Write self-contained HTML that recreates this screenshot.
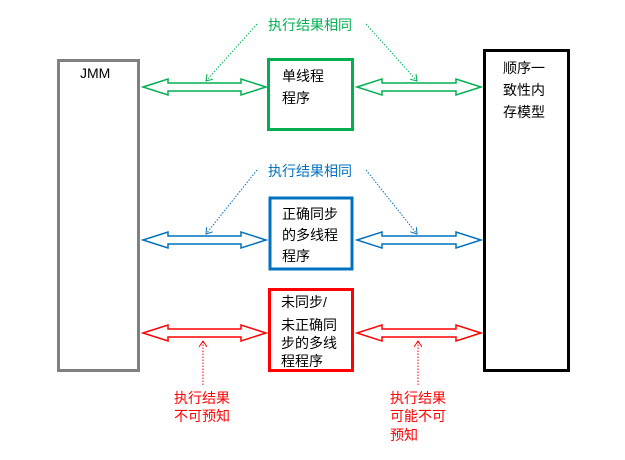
<!DOCTYPE html>
<html><head><meta charset="utf-8"><style>
body{margin:0;background:#fff;width:625px;height:460px;overflow:hidden}
svg{display:block}
text{font-family:"Liberation Sans","Noto Sans CJK SC",sans-serif;font-size:14px}
</style></head><body>
<svg width="625" height="460" viewBox="0 0 625 460">
<defs>
<marker id="ag" markerWidth="8" markerHeight="8" refX="6" refY="4" orient="auto"><path d="M0,0 L6,4 L0,8" fill="none" stroke="#00b050" stroke-width="1"/></marker>
<marker id="ab" markerWidth="8" markerHeight="8" refX="6" refY="4" orient="auto"><path d="M0,0 L6,4 L0,8" fill="none" stroke="#0070c0" stroke-width="1"/></marker>
<marker id="ar" markerWidth="8" markerHeight="8" refX="6" refY="4" orient="auto"><path d="M0,0 L6,4 L0,8" fill="none" stroke="#ff0000" stroke-width="1"/></marker>
</defs>
<rect x="58.5" y="60.5" width="80" height="310" fill="#fff" stroke="#808080" stroke-width="3"/>
<text x="80" y="78" fill="#000" font-size="13">JMM</text>
<rect x="484.5" y="50.5" width="84" height="320" fill="#fff" stroke="#000" stroke-width="3"/>
<text x="503" y="73" fill="#000">顺序一</text>
<text x="503" y="95" fill="#000">致性内</text>
<text x="503" y="117" fill="#000">存模型</text>

<rect x="268.5" y="59.5" width="84" height="70" fill="#fff" stroke="#00b050" stroke-width="3"/>
<text x="282" y="81" fill="#000">单线程</text>
<text x="282" y="103" fill="#000">程序</text>
<rect x="270" y="198" width="82" height="71" fill="#fff" stroke="#0070c0" stroke-width="3"/>
<text x="282" y="219" fill="#000">正确同步</text>
<text x="282" y="240" fill="#000">的多线程</text>
<text x="282" y="261" fill="#000">程序</text>
<rect x="269.5" y="289.5" width="83" height="81" fill="#fff" stroke="#ff0000" stroke-width="3"/>
<text x="281" y="307" fill="#000">未同步/</text>
<text x="281" y="330" fill="#000">未正确同</text>
<text x="281" y="348" fill="#000">步的多线</text>
<text x="281" y="366" fill="#000">程程序</text>

<g fill="#fff" stroke-width="1.5">
<path stroke="#00b050" d="M143,87 L168,79 L168,83 L241,83 L241,79 L266,87 L241,95 L241,91 L168,91 L168,95 Z"/>
<path stroke="#00b050" d="M357,87 L382,79 L382,83 L456,83 L456,79 L481,87 L456,95 L456,91 L382,91 L382,95 Z"/>
<path stroke="#0070c0" d="M143,240 L168,232 L168,236 L241,236 L241,232 L266,240 L241,248 L241,244 L168,244 L168,248 Z"/>
<path stroke="#0070c0" d="M357,240 L382,232 L382,236 L456,236 L456,232 L481,240 L456,248 L456,244 L382,244 L382,248 Z"/>
<path stroke="#ff0000" d="M143,333 L168,325 L168,329 L241,329 L241,325 L266,333 L241,341 L241,337 L168,337 L168,341 Z"/>
<path stroke="#ff0000" d="M357,333 L382,325 L382,329 L456,329 L456,325 L481,333 L456,341 L456,337 L382,337 L382,341 Z"/>
</g>

<text x="268" y="30" fill="#00b050" font-size="13">执行结果相同</text>
<line x1="257" y1="24" x2="206" y2="81" stroke="#00b050" stroke-dasharray="1.5,1.5" marker-end="url(#ag)"/>
<line x1="366" y1="24" x2="417" y2="81" stroke="#00b050" stroke-dasharray="1.5,1.5" marker-end="url(#ag)"/>
<text x="268" y="176" fill="#0070c0" font-size="13">执行结果相同</text>
<line x1="257" y1="170" x2="206" y2="234" stroke="#0070c0" stroke-dasharray="1.5,1.5" marker-end="url(#ab)"/>
<line x1="366" y1="170" x2="417" y2="234" stroke="#0070c0" stroke-dasharray="1.5,1.5" marker-end="url(#ab)"/>
<line x1="203" y1="385" x2="203" y2="341" stroke="#ff0000" stroke-dasharray="1.5,1.5" marker-end="url(#ar)"/>
<line x1="418" y1="385" x2="418" y2="341" stroke="#ff0000" stroke-dasharray="1.5,1.5" marker-end="url(#ar)"/>
<text x="174" y="403" fill="#ff0000" font-size="13">执行结果</text>
<text x="174" y="421" fill="#ff0000" font-size="13">不可预知</text>
<text x="390" y="403" fill="#ff0000" font-size="13">执行结果</text>
<text x="390" y="421" fill="#ff0000" font-size="13">可能不可</text>
<text x="390" y="440" fill="#ff0000" font-size="13">预知</text>
</svg>
</body></html>
